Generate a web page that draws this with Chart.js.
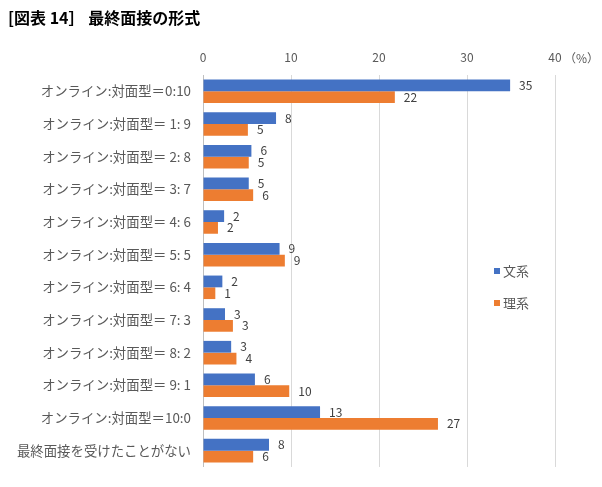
<!DOCTYPE html>
<html>
<head>
<meta charset="utf-8">
<script src="https://cdn.jsdelivr.net/npm/chart.js@4/dist/chart.umd.min.js"></script>
<style>
  html, body { margin: 0; padding: 0; background: #fff; }
  #wrap { width: 602px; height: 487px; position: relative; }
</style>
</head>
<body>
<div id="wrap"><canvas id="chart"></canvas></div>
<script>
const categories = [
  "オンライン:対面型＝0:10",
  "オンライン:対面型＝ 1: 9",
  "オンライン:対面型＝ 2: 8",
  "オンライン:対面型＝ 3: 7",
  "オンライン:対面型＝ 4: 6",
  "オンライン:対面型＝ 5: 5",
  "オンライン:対面型＝ 6: 4",
  "オンライン:対面型＝ 7: 3",
  "オンライン:対面型＝ 8: 2",
  "オンライン:対面型＝ 9: 1",
  "オンライン:対面型＝10:0",
  "最終面接を受けたことがない"
];
const bunkei = [34.9, 8.3, 5.5, 5.2, 2.4, 8.7, 2.2, 2.5, 3.2, 5.9, 13.3, 7.5];
const rikei = [21.8, 5.1, 5.2, 5.7, 1.7, 9.3, 1.4, 3.4, 3.8, 9.8, 26.7, 5.7];
const xTicks = [0, 10, 20, 30, 40];
const seriesNames = ["文系", "理系"];
const seriesColors = ["#4472C4", "#ED7D31"];

const FONT = "'Noto Sans CJK JP', 'Noto Sans', sans-serif";

// value labels just past the end of each bar
const barLabels = {
  id: "barLabels",
  afterDatasetsDraw(chart) {
    const ctx = chart.ctx;
    ctx.save();
    ctx.font = "12px " + FONT;
    ctx.fillStyle = "#404040";
    ctx.textAlign = "left";
    ctx.textBaseline = "middle";
    chart.data.datasets.forEach((ds, i) => {
      chart.getDatasetMeta(i).data.forEach((bar, j) => {
        ctx.fillText(String(Math.round(ds.data[j])), bar.x + 9, bar.y);
      });
    });
    ctx.restore();
  }
};

// unit after the last tick, and the legend inside the plot
const extras = {
  id: "extras",
  afterDraw(chart) {
    const ctx = chart.ctx;
    const x = chart.scales.x;
    ctx.save();
    ctx.font = "12px " + FONT;
    ctx.fillStyle = "#595959";
    ctx.textAlign = "left";
    ctx.textBaseline = "middle";
    ctx.fillText("（%）", x.getPixelForValue(40) + 9, 58);

    ctx.font = "13px " + FONT;
    seriesNames.forEach((name, i) => {
      const y = 271 + i * 32;
      ctx.fillStyle = seriesColors[i];
      ctx.fillRect(494, y - 3, 6, 6);
      ctx.fillStyle = "#595959";
      ctx.fillText(name, 503, y);
    });
    ctx.restore();
  }
};

new Chart(document.getElementById("chart"), {
  type: "bar",
  data: {
    labels: categories,
    datasets: [
      { label: seriesNames[0], data: bunkei, backgroundColor: seriesColors[0] },
      { label: seriesNames[1], data: rikei, backgroundColor: seriesColors[1] }
    ]
  },
  options: {
    indexAxis: "y",
    responsive: true,
    maintainAspectRatio: false,
    animation: false,
    layout: { padding: { left: 8, right: 47, top: 0, bottom: 20 } },
    datasets: { bar: { categoryPercentage: 0.72, barPercentage: 1.0 } },
    plugins: {
      legend: { display: false },
      tooltip: { enabled: false },
      title: {
        display: true,
        text: "[図表 14］ 最終面接の形式",
        align: "start",
        color: "#000",
        font: { family: FONT, size: 16, weight: "bold", lineHeight: 1.2 },
        padding: { top: 8, bottom: 8 }
      }
    },
    scales: {
      x: {
        position: "top",
        min: 0,
        max: 40,
        afterBuildTicks: (s) => { s.ticks = xTicks.map((v) => ({ value: v })); },
        afterFit: (s) => { s.height = 39.8; },
        grid: { color: "#d9d9d9", drawTicks: false },
        border: { display: false },
        ticks: {
          padding: 10,
          color: "#595959",
          font: { family: FONT, size: 12 },
          maxRotation: 0
        }
      },
      y: {
        afterFit: (s) => { s.width = 195; },
        grid: { display: false, drawTicks: false },
        border: { display: true, color: "#bfbfbf" },
        ticks: {
          padding: 12,
          color: "#595959",
          font: { family: FONT, size: 13.4 }
        }
      }
    }
  },
  plugins: [barLabels, extras]
});
</script>
</body>
</html>
